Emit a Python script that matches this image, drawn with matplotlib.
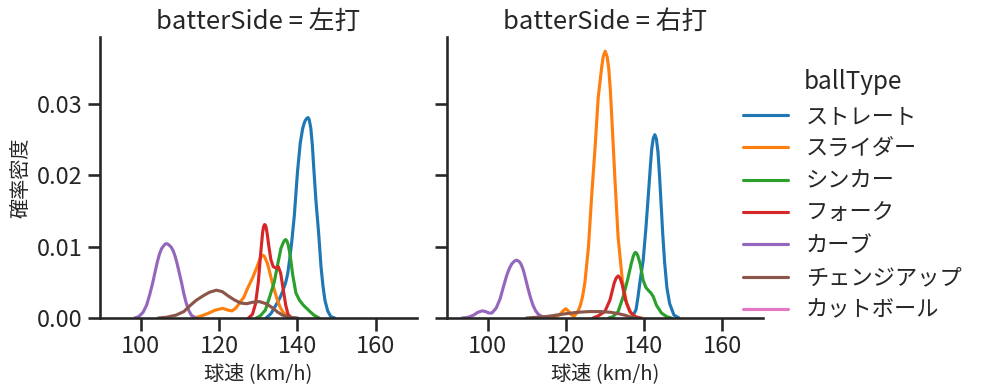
import matplotlib
matplotlib.use("Agg")
import matplotlib.pyplot as plt
import seaborn as sns
from matplotlib.lines import Line2D

# --------------------------------------------------------------------
# Courbes de densité (vitesse km/h, densité)
# --------------------------------------------------------------------
ball_types = ["ストレート", "スライダー", "シンカー", "フォーク",
              "カーブ", "チェンジアップ", "カットボール"]
sides = ["左打", "右打"]

# --- 左打 ---
left_straight_x = [132.0, 133.2, 134.5, 135.5, 136.2, 137.0, 137.5, 138.0, 138.5, 139.2,
                   140.0, 140.7, 141.3, 141.7, 142.0, 142.4, 142.7, 143.0, 143.4, 143.8,
                   144.1, 144.7, 145.4, 146.0, 146.5, 147.0, 147.7, 148.5, 149.5]
left_straight_y = [0.0, 0.0006, 0.0018, 0.0028, 0.0037, 0.0050, 0.0062, 0.0082, 0.0105, 0.0144,
                   0.0205, 0.0245, 0.0265, 0.0273, 0.0277, 0.0280, 0.0281, 0.0278, 0.0266, 0.0242,
                   0.0215, 0.0165, 0.0119, 0.0072, 0.0045, 0.0025, 0.0010, 0.0002, 0.0]

left_slider_x = [113.5, 115.0, 117.0, 119.0, 120.9, 122.3, 123.3, 124.3, 125.2, 126.3,
                 127.3, 128.6, 129.7, 130.5, 130.9, 131.2, 131.6, 131.9, 132.3, 132.7,
                 133.5, 134.7, 135.5, 136.2, 137.2, 138.5]
left_slider_y = [0.0, 0.0002, 0.0006, 0.0011, 0.00135, 0.0011, 0.0010, 0.0014, 0.0021, 0.0029,
                 0.0042, 0.0057, 0.0072, 0.0084, 0.0087, 0.0088, 0.0086, 0.0082, 0.0077, 0.0069,
                 0.0051, 0.0028, 0.0016, 0.0009, 0.0003, 0.0]

left_sinker_x = [129.5, 130.5, 131.8, 132.8, 134.1, 134.9, 135.8, 136.4, 136.7, 137.0,
                 137.3, 137.6, 137.9, 138.2, 138.8, 139.6, 140.5, 141.5, 143.0, 144.2, 145.5]
left_sinker_y = [0.0, 0.0003, 0.0011, 0.0028, 0.0051, 0.0074, 0.0098, 0.0106, 0.0109, 0.0110,
                 0.0108, 0.0103, 0.0095, 0.0085, 0.0060, 0.0035, 0.0025, 0.0018, 0.0010, 0.0004, 0.0]

left_fork_x = [127.5, 128.5, 129.3, 130.0, 130.6, 131.1, 131.35, 131.6, 131.85, 132.1,
               132.35, 132.6, 133.2, 133.8, 134.5, 135.1, 135.7, 136.3, 137.0, 137.6, 138.5]
left_fork_y = [0.0, 0.0005, 0.0020, 0.0050, 0.0090, 0.0120, 0.0128, 0.0131, 0.0130, 0.0124,
               0.0115, 0.0104, 0.0082, 0.0072, 0.0070, 0.0072, 0.0063, 0.0042, 0.0018, 0.0005, 0.0]

left_curve_x = [98.5, 99.5, 100.6, 101.5, 102.3, 103.0, 103.6, 104.2, 104.8, 105.3,
                105.8, 106.3, 106.8, 107.3, 107.8, 108.3, 108.8, 109.3, 109.8, 110.4,
                111.0, 111.6, 112.3, 112.9, 114.0]
left_curve_y = [0.0, 0.0002, 0.0008, 0.0018, 0.0033, 0.0048, 0.0063, 0.0078, 0.0090, 0.0097,
                0.0101, 0.0104, 0.0104, 0.0102, 0.0099, 0.0094, 0.0086, 0.0076, 0.0064, 0.0050,
                0.0034, 0.0021, 0.0010, 0.0004, 0.0]

left_change_x = [104.5, 106.5, 109.0, 111.0, 112.5, 114.2, 115.9, 117.5, 119.3, 120.8,
                 122.3, 124.0, 125.5, 127.0, 128.5, 130.3, 132.0, 133.7, 135.0, 136.2,
                 138.0, 140.0]
left_change_y = [0.0, 0.0001, 0.0004, 0.0009, 0.0017, 0.0025, 0.0031, 0.0036, 0.0039, 0.0037,
                 0.0031, 0.0025, 0.0021, 0.0020, 0.0022, 0.0023, 0.0020, 0.0014, 0.0008, 0.0004,
                 0.0001, 0.0]

# --- 右打 ---
right_straight_x = [136.8, 137.3, 138.0, 138.5, 139.1, 139.8, 140.5, 141.1, 141.7, 142.0,
                    142.4, 142.8, 143.2, 143.6, 144.0, 144.4, 144.8, 145.3, 145.9, 146.6,
                    147.7, 149.0]
right_straight_y = [0.0, 0.0004, 0.0012, 0.0030, 0.0055, 0.0080, 0.0125, 0.0170, 0.0216, 0.0237,
                    0.0252, 0.0257, 0.0251, 0.0233, 0.0200, 0.0160, 0.0120, 0.0078, 0.0042, 0.0020,
                    0.0004, 0.0]

right_slider_x = [116.0, 117.5, 118.5, 119.3, 120.0, 120.8, 121.5, 122.2, 123.0, 123.7,
                  124.3, 124.9, 125.8, 126.6, 127.5, 128.3, 129.2, 129.6, 130.1, 130.6,
                  131.0, 131.4, 131.7, 132.6, 133.4, 134.5, 135.6, 136.8, 138.0, 139.5]
right_slider_y = [0.0, 0.0002, 0.0005, 0.0010, 0.0013, 0.0009, 0.0004, 0.0003, 0.0008, 0.0017,
                  0.0030, 0.0050, 0.0099, 0.0169, 0.0239, 0.0309, 0.0352, 0.0367, 0.0374, 0.0366,
                  0.0350, 0.0320, 0.0290, 0.0193, 0.0113, 0.0052, 0.0020, 0.0006, 0.0001, 0.0]

right_sinker_x = [131.0, 132.1, 133.4, 134.7, 135.8, 136.8, 137.3, 137.55, 137.8, 138.1,
                  138.4, 139.0, 139.8, 140.5, 141.1, 141.8, 142.4, 143.2, 144.5, 145.8, 147.0]
right_sinker_y = [0.0, 0.0002, 0.0009, 0.0030, 0.0053, 0.0077, 0.0087, 0.0090, 0.0092, 0.0091,
                  0.0088, 0.0077, 0.0053, 0.0043, 0.0039, 0.0035, 0.0030, 0.0018, 0.0007, 0.0002, 0.0]

right_fork_x = [127.0, 128.3, 130.0, 131.3, 132.4, 132.9, 133.4, 133.9, 134.4, 135.3,
                136.4, 137.7, 139.0]
right_fork_y = [0.0, 0.0003, 0.0009, 0.0025, 0.0049, 0.0056, 0.0059, 0.0056, 0.0048, 0.0025,
                0.0009, 0.0002, 0.0]

right_curve_x = [93.5, 95.0, 96.4, 97.5, 98.6, 99.5, 100.3, 101.1, 102.2, 103.2,
                 104.0, 104.9, 105.6, 106.2, 106.9, 107.5, 108.1, 108.6, 109.2, 109.8,
                 110.4, 111.0, 111.6, 112.3, 113.0, 114.0, 115.1]
right_curve_y = [0.0, 0.0001, 0.0004, 0.0008, 0.0010, 0.0009, 0.0007, 0.0007, 0.0014, 0.0027,
                 0.0043, 0.0060, 0.0070, 0.0076, 0.0080, 0.0081, 0.0079, 0.0075, 0.0066, 0.0053,
                 0.0040, 0.0028, 0.0018, 0.0010, 0.0005, 0.0002, 0.0]

right_change_x = [110.0, 112.5, 115.0, 117.5, 120.0, 123.0, 126.0, 129.0, 131.5, 133.5,
                  135.1, 136.8, 138.0]
right_change_y = [0.0, 0.0001, 0.0002, 0.0004, 0.0006, 0.0008, 0.0009, 0.0009, 0.0008, 0.0006,
                  0.0004, 0.0001, 0.0]

left_curves = {
    "ストレート": (left_straight_x, left_straight_y),
    "スライダー": (left_slider_x, left_slider_y),
    "シンカー": (left_sinker_x, left_sinker_y),
    "フォーク": (left_fork_x, left_fork_y),
    "カーブ": (left_curve_x, left_curve_y),
    "チェンジアップ": (left_change_x, left_change_y),
}
right_curves = {
    "ストレート": (right_straight_x, right_straight_y),
    "スライダー": (right_slider_x, right_slider_y),
    "シンカー": (right_sinker_x, right_sinker_y),
    "フォーク": (right_fork_x, right_fork_y),
    "カーブ": (right_curve_x, right_curve_y),
    "チェンジアップ": (right_change_x, right_change_y),
}

# --------------------------------------------------------------------
# Style
# --------------------------------------------------------------------
sns.set_theme(context="talk", style="ticks")
plt.rcParams["font.family"] = ["Noto Sans CJK JP", "DejaVu Sans"]

palette = sns.color_palette("tab10", len(ball_types))
colors = dict(zip(ball_types, palette))

fig = plt.figure(figsize=(9.87, 3.91), dpi=100)
ax_l = fig.add_axes([0.1013, 0.1867, 0.3212, 0.7187])
ax_r = fig.add_axes([0.4529, 0.1867, 0.3202, 0.7187], sharex=ax_l, sharey=ax_l)

for ax, side, curves in [(ax_l, sides[0], left_curves), (ax_r, sides[1], right_curves)]:
    for bt in ball_types:
        if bt in curves:
            xs, ys = curves[bt]
            ax.plot(xs, ys, color=colors[bt], linewidth=2.25,
                    solid_joinstyle="round", solid_capstyle="round")
    ax.set_title(f"batterSide = {side}", fontsize=18.5)
    ax.set_xlabel("球速 (km/h)", fontsize=14.5)
    ax.spines["top"].set_visible(False)
    ax.spines["right"].set_visible(False)
    ax.tick_params(labelsize=17)

ax_l.set_xlim(89.6, 170.5)
ax_l.set_ylim(0, 0.0394)
ax_l.set_xticks([100, 120, 140, 160])
ax_l.set_yticks([0.0, 0.01, 0.02, 0.03])
ax_l.set_yticklabels(["0.00", "0.01", "0.02", "0.03"])
ax_l.set_ylabel("確率密度", fontsize=14.5)
ax_r.tick_params(labelleft=False)

handles = [Line2D([0], [0], color=colors[bt], linewidth=2.25) for bt in ball_types]
fig.legend(handles, ball_types, title="ballType", loc="center left",
           bbox_to_anchor=(0.733, 0.50), frameon=False, fontsize=16,
           title_fontsize=17.5, labelspacing=0.42)

plt.savefig("out.png", dpi=100)
